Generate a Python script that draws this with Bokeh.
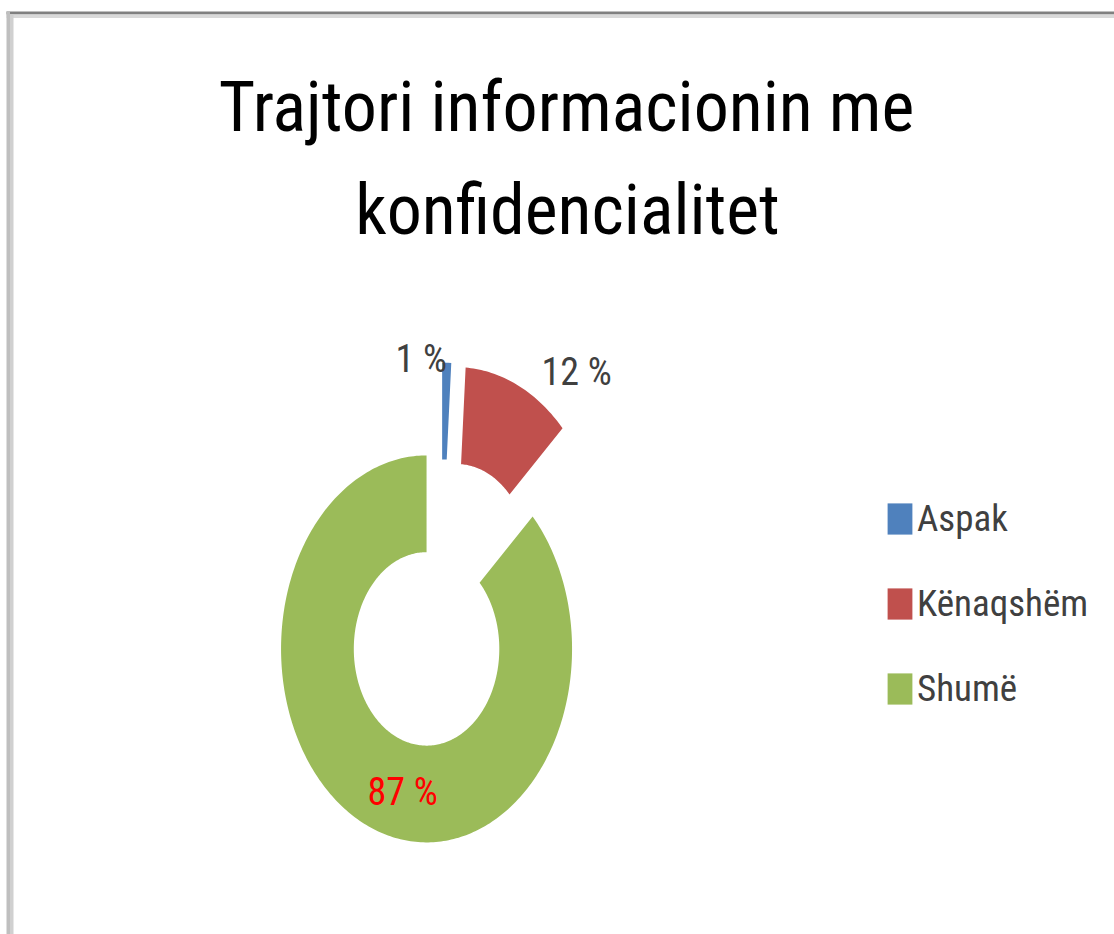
import numpy as np
from bokeh.plotting import figure
from bokeh.models import Range1d, ColumnDataSource, Legend, LegendItem, BoxAnnotation
from bokeh.core.properties import value
from bokeh.embed import file_html
from bokeh.resources import INLINE

# ---- data ----
categories = ["Aspak", "Kënaqshëm", "Shumë"]
percent = [1, 12, 87]
labels = ["1 %", "12 %", "87 %"]
colors = ["#4F81BD", "#C0504D", "#9BBB59"]
label_colors = ["#404040", "#404040", "#FF0000"]
title_lines = ["Trajtori informacionin me", "konfidencialitet"]

FONT = "'Roboto Condensed', 'DejaVu Sans Condensed', sans-serif"

# ---- layout (page pixels -> data units; donut outer radius = 1) ----
W, H = 1114, 934
CXp, CYp = 440.5, 604.0      # donut centre on page
SX, SY = 145.5, 193.5        # pixels per data unit (stretched chart)
BASE = 0.365                 # alphabetic-baseline correction (fraction of font size)


def X(px):
    return (px - CXp) / SX


def Y(py):
    return (CYp - py) / SY


def YB(py, size):
    # data y for a text whose baseline should sit at page pixel py
    return Y(py - BASE * size)


p = figure(width=W, height=H, output_backend="svg", toolbar_location=None,
           x_range=Range1d(X(0), X(W)), y_range=Range1d(Y(H), Y(0)),
           min_border=0, outline_line_color=None, background_fill_color="white",
           border_fill_color="white")
p.xaxis.visible = False
p.yaxis.visible = False
p.grid.visible = False

# frame of the original chart (top and left edges)
p.add_layout(BoxAnnotation(left=X(6), right=X(W), top=Y(11), bottom=Y(14),
                           fill_color="#808080", fill_alpha=1, line_color=None))
p.add_layout(BoxAnnotation(left=X(6), right=X(W), top=Y(14), bottom=Y(17.5),
                           fill_color="#d9d9d9", fill_alpha=1, line_color=None))
p.add_layout(BoxAnnotation(left=X(6), right=X(9.5), top=Y(11), bottom=Y(H),
                           fill_color="#bfbfbf", fill_alpha=1, line_color=None))
p.add_layout(BoxAnnotation(left=X(9.5), right=X(13), top=Y(14), bottom=Y(H),
                           fill_color="#d0d0d0", fill_alpha=1, line_color=None))

# ---- exploded doughnut ----
R_OUT, R_IN, EXPLODE = 1.0, 0.5, 0.25
frac = np.array(percent, dtype=float) / np.sum(percent)
ends = np.cumsum(frac) * 2 * np.pi
starts = ends - frac * 2 * np.pi

xs, ys = [], []
for a0, a1 in zip(starts, ends):
    mid = (a0 + a1) / 2
    ox, oy = EXPLODE * np.sin(mid), EXPLODE * np.cos(mid)
    n = max(4, int(np.degrees(a1 - a0)))
    t = np.linspace(a0, a1, n)
    px = np.concatenate([R_OUT * np.sin(t), R_IN * np.sin(t[::-1])]) + ox
    py = np.concatenate([R_OUT * np.cos(t), R_IN * np.cos(t[::-1])]) + oy
    xs.append(px.tolist())
    ys.append(py.tolist())

src = ColumnDataSource(dict(xs=xs, ys=ys, color=colors, cat=categories))
slices = p.patches("xs", "ys", source=src, fill_color="color", line_color=None)

# ---- data labels ----
LSIZE = 38
lab_x = [X(395), X(541), X(367)]
lab_y = [YB(372, LSIZE), YB(385, LSIZE), YB(805, LSIZE)]
p.text(lab_x, lab_y, text=labels, text_color=label_colors,
       text_font=value(FONT), text_font_size=f"{LSIZE}px",
       text_align="left", text_baseline="alphabetic")

# ---- title ----
TSIZE = 70
p.text([X(566), X(567)], [YB(132, TSIZE), YB(235, TSIZE)], text=title_lines,
       text_color="#000000", text_font=value(FONT), text_font_size=f"{TSIZE}px",
       text_align="center", text_baseline="alphabetic")

# ---- legend ----
items = [LegendItem(label=c, renderers=[slices], index=i) for i, c in enumerate(categories)]
legend = Legend(items=items, location=(884, 223),
                glyph_width=31, glyph_height=39, label_height=45,
                label_standoff=2, spacing=40, padding=0, margin=0,
                label_text_font=FONT, label_text_font_size="37px",
                label_text_color="#404040", border_line_color=None,
                background_fill_alpha=0)
p.add_layout(legend)

open("out.html", "w").write(file_html(p, INLINE))
